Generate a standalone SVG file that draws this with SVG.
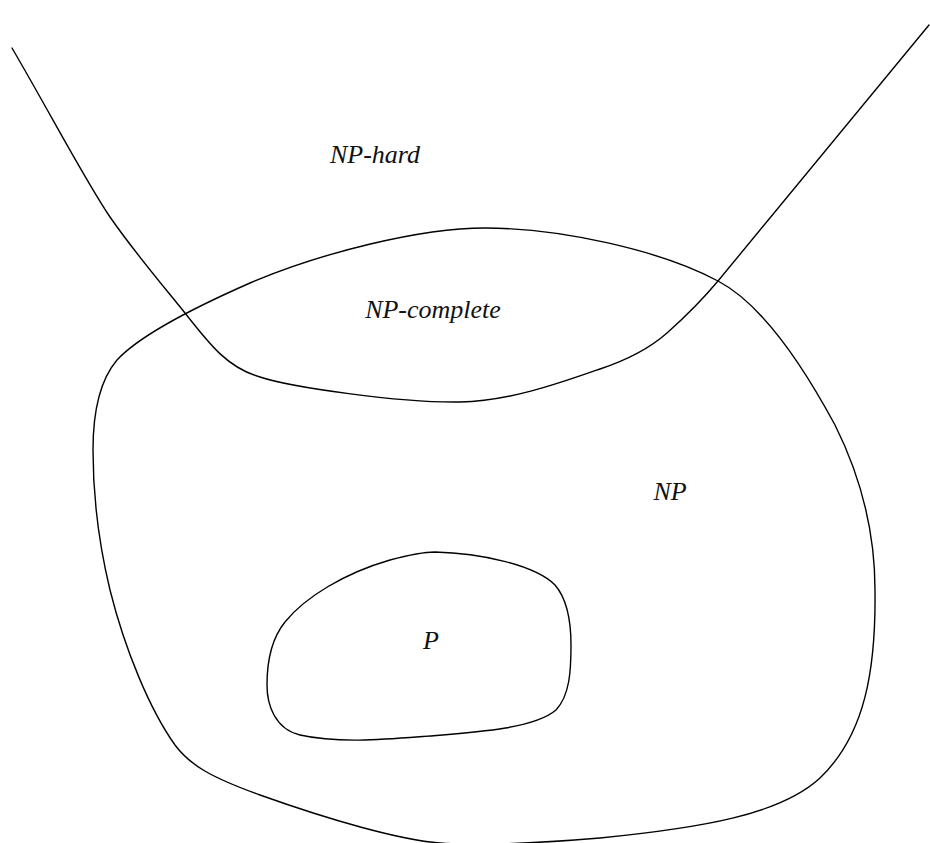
<svg xmlns="http://www.w3.org/2000/svg" width="930" height="843" viewBox="0 0 930 843">
<style>
.curve{fill:none;stroke:#000;stroke-width:1.4;stroke-linejoin:round;stroke-linecap:round}
.lbl{font-family:"Liberation Serif","Times New Roman",serif;font-style:italic;font-size:26px;fill:#111;text-anchor:middle}
</style>
<rect width="930" height="843" fill="#fff"/>
<g id="np-hard">
<path class="curve" d="M12,48 C50,113 85,180 110,217 C135,253 160,282 185,313 C210,345 228,368 260,377 C290,387 400,403 460,402 C510,401 560,383 600,369 C630,359 650,348 667,333 C685,317 703,299 718,281 L929,25"/>
<text class="lbl" x="375" y="163">NP-hard</text>
</g>
<g id="np">
<path class="curve" d="M485,228 C560,228 660,250 718,281 C760,303 800,360 835,425 C860,475 875,530 875,590 C876,670 865,735 820,778 C780,815 700,828 600,838 C540,843 480,846 440,843 C400,840 330,820 260,795 C210,777 190,765 175,745 C150,710 125,650 110,590 C98,540 93,490 93,450 C93,410 100,380 117,360 C140,335 200,305 250,283 C320,253 420,228 485,228 Z"/>
<text class="lbl" x="670" y="500">NP</text>
</g>
<g id="np-complete">
<text class="lbl" x="433" y="318">NP-complete</text>
</g>
<g id="p">
<path class="curve" d="M435,552 C480,553 535,565 555,585 C568,600 571,625 571,645 C571,670 570,695 556,710 C535,728 480,732 430,736 C390,739 340,744 300,735 C275,729 267,705 267,685 C267,660 272,638 285,622 C305,597 345,573 390,560 C405,556 420,552 435,552 Z"/>
<text class="lbl" x="431" y="649">P</text>
</g>
<g id="connectors"></g>
</svg>
